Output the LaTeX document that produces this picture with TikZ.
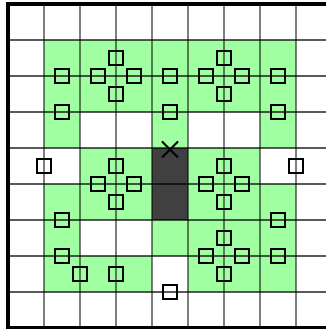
\documentclass[tikz,border=0pt]{standalone}
\usetikzlibrary{shapes.misc}
\definecolor{cellgreen}{RGB}{160,255,160}
\definecolor{celldark}{RGB}{64,64,64}
\begin{document}
\begin{tikzpicture}[x=36pt,y=-36pt,
  sq/.style={draw=black,line width=2.2pt,minimum size=14.6pt,inner sep=0pt},
  gcell/.style={fill=cellgreen},
  dcell/.style={fill=celldark},
  vline/.style={draw=black,draw opacity=0.5,line width=2pt},
  hline/.style={draw=black,draw opacity=0.65,line width=2pt},
  frame/.style={draw=black,line width=4pt}]
\useasboundingbox (-0.2222,-0.1111) rectangle (8.8333,9.0278);
\clip (-0.2222,-0.1111) rectangle (8.8333,9.0278);
% green cells
\fill[gcell] (1,1) rectangle (8,3);
\foreach \c/\r in {1/3,4/3,7/3,2/4,3/4,5/4,6/4,1/5,2/5,3/5,5/5,6/5,7/5,
  1/6,4/6,5/6,6/6,7/6,1/7,2/7,3/7,5/7,6/7,7/7}
  \fill[gcell] (\c,\r) rectangle ++(1,1);
% dark cells
\fill[dcell] (4,4) rectangle (5,6);
% grid
\foreach \i in {1,...,8} {
  \draw[vline] (\i,0) -- (\i,9);
  \draw[hline] (0,\i) -- (9,\i);
}
\draw[frame] (9.2,0) -- (0,0) -- (0,9) -- (9.2,9);
% squares
\foreach \u/\v [count=\k] in {3/1.5,2.5/2,3.5/2,3/2.5,
  1.5/2,1.5/3,4.5/2,4.5/3,
  6/1.5,5.5/2,6.5/2,6/2.5,
  7.5/2,7.5/3,1/4.5,8/4.5,
  3/4.5,2.5/5,3.5/5,3/5.5,
  6/4.5,5.5/5,6.5/5,6/5.5,
  1.5/6,1.5/7,2/7.5,3/7.5,
  7.5/6,7.5/7,
  6/6.5,5.5/7,6.5/7,6/7.5,
  4.5/8}
  \node[sq] (s\k) at (\u,\v) {};
% cross
\node[cross out,draw=black,line width=2pt,minimum size=14pt,inner sep=0pt] (x) at (4.5,4.04) {};
\end{tikzpicture}
\end{document}
